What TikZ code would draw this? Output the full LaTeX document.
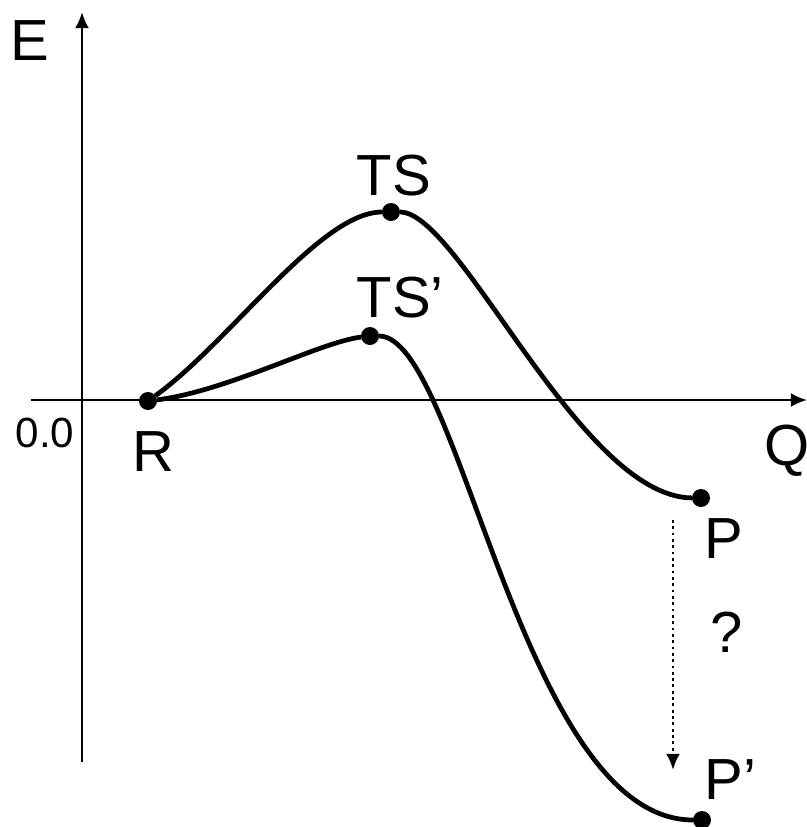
\documentclass[tikz,border=0pt]{standalone}
\usepackage{fontspec}
\setmainfont{Liberation Sans}
\usepackage{tikz}
\usetikzlibrary{arrows.meta}
\tikzset{
    dot/.style={circle, fill=black, inner sep=0pt, minimum size=0.18cm, outer sep=0pt},
    curve/.style={line width=1.35pt},
    axis/.style={line width=0.7pt, -{Latex[length=4.6pt, width=4.0pt]}},
    biglabel/.style={anchor=base west, inner sep=0pt, font=\fontsize{16.5pt}{18pt}\selectfont},
    smalllabel/.style={anchor=base west, inner sep=0pt, font=\fontsize{12pt}{14pt}\selectfont}
}

\begin{document}
\begin{tikzpicture}
            \useasboundingbox (0,0) rectangle (8.07,8.27);

            % axes
            \coordinate (eBot) at (0.82,0.65);
            \coordinate (eTop) at (0.82,8.15);
            \coordinate (qLeft) at (0.31,4.27);
            \coordinate (qRight) at (8.07,4.27);
            \draw[axis] (eBot) -- (eTop);
            \draw[axis] (qLeft) -- (qRight);
            \node[biglabel] (E) at (0.10,7.67) {E};
            \node[biglabel] (Q) at (7.64,3.62) {Q};
            \node[smalllabel] (zero) at (0.15,3.80) {0.0};

            % stationary points
            \node[dot] (R) at (1.48,4.26) {};
            \node[dot] (TS) at (3.91,6.15) {};
            \node[dot] (TSp) at (3.70,4.91) {};
            \node[dot] (P) at (7.01,3.29) {};
            \node[dot] (Pp) at (7.02,0.07) {};

            % reaction paths
            \draw[curve] (R) .. controls +(0.82,0.59) and +(-0.71,0) .. (TS)
                             .. controls +(0.69,0) and +(-1.21,0.01) .. (P);
            \draw[curve] (R) .. controls +(0.80,0.10) and +(-0.50,-0.06) .. (TSp)
                             .. controls +(0.90,0) and +(-1.80,0) .. (Pp);

            % labels
            \node[biglabel] (lR) at (1.32,3.56) {R};
            \node[biglabel] (lTS) at (3.56,6.32) {TS};
            \node[biglabel] (lTSp) at (3.56,5.10) {TS’};
            \node[biglabel] (lP) at (7.04,2.69) {P};
            \node[biglabel] (lPp) at (7.04,0.27) {P’};
            \node[biglabel] (query) at (7.10,1.74) {?};

            % P -> P'
            \coordinate (dTop) at (6.73,3.07);
            \coordinate (dBot) at (6.73,0.57);
            \draw[line width=0.8pt, densely dotted, -{Latex[length=4.6pt, width=4.0pt]}] (dTop) -- (dBot);
        \end{tikzpicture}
\end{document}
